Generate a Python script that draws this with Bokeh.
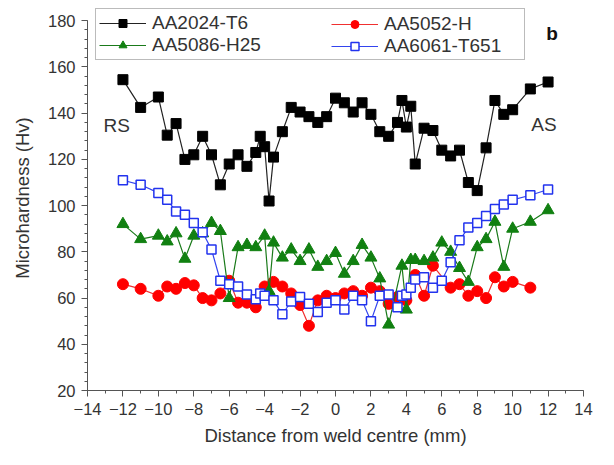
from bokeh.plotting import figure
from bokeh.models import (Range1d, FixedTicker, Legend, LegendItem, Label)
from bokeh.embed import file_html
from bokeh.resources import INLINE

# ---------------- data ----------------
black_x = [-12, -11, -10, -9.5, -9, -8.5, -8, -7.5, -7, -6.5, -6, -5.5, -5, -4.5,
           -4.25, -4, -3.75, -3.5, -3, -2.5, -2, -1.5, -1, -0.5, 0, 0.5, 1, 1.5,
           2, 2.5, 3, 3.5, 3.75, 4, 4.25, 4.5, 5, 5.5, 6, 6.5, 7, 7.5, 8, 8.5,
           9, 9.5, 10, 11, 12]
black_y = [154.5, 142.5, 147, 130.5, 135.5, 120, 122, 130, 122, 109, 118, 122, 117, 123,
           130, 125.5, 102, 121, 132, 142.5, 140.5, 138.5, 136, 138.5, 146.5, 144.5, 140.5, 144.5,
           139.5, 132, 130, 136, 145.5, 134, 143, 118, 133.5, 132.5, 124, 121.5, 124, 110, 106.5, 125,
           145.5, 139.5, 141.5, 150.5, 153.5]

red_x = [-12, -11, -10, -9.5, -9, -8.5, -8, -7.5, -7, -6.5, -6, -5.5, -5, -4.5,
         -4, -3.5, -3, -2.5, -2, -1.5, -1, -0.5, 0, 0.5, 1, 1.5, 2, 2.5, 3, 3.5,
         4, 4.5, 5, 5.5, 6.5, 7, 7.5, 8, 8.5, 9, 9.5, 10, 11]
red_y = [66, 64, 61, 65, 64, 66.5, 65.5, 60, 59, 62, 67.5, 58, 58, 56,
         65, 67, 65, 62, 57, 48, 59, 61, 60, 62, 63, 61, 64.5, 63, 57.5, 60.5,
         59, 70, 61, 74, 64.5, 66, 61, 63, 60, 69, 65, 67, 64.5]

green_x = [-12, -11, -10, -9.5, -9, -8.5, -8, -7.5, -7, -6.5, -6, -5.5, -5, -4.5,
           -4, -3.75, -3.5, -3, -2.5, -2, -1.5, -1, -0.5, 0, 0.5, 1, 1.5, 2, 2.5, 3,
           3.75, 4, 4.25, 4.5, 5, 5.5, 6, 6.5, 7, 7.5, 8, 8.5, 9, 9.5, 10, 11, 12]
green_y = [92, 85.5, 87, 84.5, 88, 77, 87, 88, 92.5, 89, 60, 82, 83, 82,
           87, 63, 84, 77.5, 81, 76, 81, 73.5, 76, 79.5, 70.5, 76, 83, 77.5, 68.5, 48.5,
           74, 55, 76.5, 76.5, 76, 77.5, 84, 80, 73, 67, 82, 85.5, 93, 73.5, 90, 93, 98]

blue_x = [-12, -11, -10, -9.5, -9, -8.5, -8, -7.5, -7, -6.5, -6, -5.5, -5, -4.5,
          -4.25, -4, -3.5, -3, -2.5, -2, -1.5, -1, -0.5, 0, 0.5, 1, 1.5, 2, 2.5, 3, 3.5,
          3.75, 4, 4.25, 4.5, 5, 5.5, 6, 6.5, 7, 7.5, 8, 8.5, 9, 9.5, 10, 11, 12]
blue_y = [111, 109, 105.5, 102.5, 97.5, 96, 92.5, 88.5, 81, 67.5, 66, 65, 61.5, 59.5,
          62, 61, 59, 53, 58.5, 60.5, 57.5, 54, 58, 59, 55, 61, 59, 50, 61, 61.5, 56,
          61, 61.5, 64.5, 68, 69, 64.5, 67.5, 75.5, 85, 90.5, 92.5, 95.5, 98.5, 100.5, 102.5, 104.5, 107]

series_names = ["AA2024-T6", "AA5052-H", "AA5086-H25", "AA6061-T651"]
x_ticks = list(range(-14, 15, 2))
x_minor = list(range(-14, 15, 1))
y_ticks = list(range(20, 181, 20))
y_minor = list(range(20, 181, 4))
y_axis_bounds = (20, 180)

FONT = "Liberation Sans"

# frame extends a little above 180 so that the legend (which overlaps the top) is not clipped
p = figure(width=598, height=449, output_backend="svg", toolbar_location=None,
           x_range=Range1d(-14, 14), y_range=Range1d(20, 186.6),
           min_border_left=87, min_border_right=15, min_border_top=5, min_border_bottom=59)
p.outline_line_color = None
p.grid.visible = False
p.background_fill_color = "white"
p.border_fill_color = "white"

# series
r_bl = p.line(black_x, black_y, line_color="#222222", line_width=1.2)
r_bm = p.scatter(black_x, black_y, marker="square", size=10, fill_color="black", line_color="black")
r_rl = p.line(red_x, red_y, line_color="#f03030", line_width=1.2)
r_rm = p.scatter(red_x, red_y, marker="circle", size=11, fill_color="#ff0000", line_color="#ff0000")
r_gl = p.line(green_x, green_y, line_color="#1a7a1a", line_width=1.2)
r_gm = p.scatter(green_x, green_y, marker="triangle", size=12, fill_color="#118011", line_color="#118011")
r_ul = p.line(blue_x, blue_y, line_color="#3344ee", line_width=1.2)
r_um = p.scatter(blue_x, blue_y, marker="square", size=9, fill_color="white", line_color="#2233ee", line_width=1.5)

# axes
for ax in (p.xaxis[0], p.yaxis[0]):
    ax.axis_line_color = "#555555"
    ax.major_tick_line_color = "#555555"
    ax.minor_tick_line_color = "#555555"
    ax.major_tick_in = 0
    ax.major_tick_out = 6
    ax.minor_tick_in = 0
    ax.minor_tick_out = 3
    ax.major_label_text_font = FONT
    ax.major_label_text_font_size = "16.5px"
    ax.major_label_text_color = "#333333"
    ax.axis_label_text_font = FONT
    ax.axis_label_text_font_size = "18.5px"
    ax.axis_label_text_font_style = "normal"
    ax.axis_label_text_color = "#333333"

p.xaxis[0].ticker = FixedTicker(ticks=x_ticks, minor_ticks=x_minor)
p.yaxis[0].ticker = FixedTicker(ticks=y_ticks, minor_ticks=y_minor)
p.yaxis[0].bounds = y_axis_bounds
p.xaxis[0].axis_label = "Distance from weld centre (mm)"
p.yaxis[0].axis_label = "Microhardness (Hv)"
p.xaxis[0].major_label_standoff = 6
p.xaxis[0].axis_label_standoff = 7
p.yaxis[0].major_label_standoff = 6
p.yaxis[0].axis_label_standoff = 12

# legends (two columns, the first carries the frame)
leg_common = dict(label_text_font=FONT, label_text_font_size="19px", label_text_color="#333333",
                  glyph_width=47, glyph_height=20, label_height=20, label_standoff=6,
                  spacing=0, margin=0, padding=3)
leg1 = Legend(items=[LegendItem(label=series_names[0], renderers=[r_bl, r_bm]),
                     LegendItem(label=series_names[2], renderers=[r_gl, r_gm])],
              location=(8, 330), label_width=369,
              border_line_color="#777777", border_line_width=1.5,
              background_fill_color="white", background_fill_alpha=1.0, **leg_common)
leg2 = Legend(items=[LegendItem(label=series_names[1], renderers=[r_rl, r_rm]),
                     LegendItem(label=series_names[3], renderers=[r_ul, r_um])],
              location=(241, 330),
              border_line_color="white", border_line_alpha=0.0, border_line_width=1.5,
              background_fill_alpha=0.0, **leg_common)
p.add_layout(leg1, "center")
p.add_layout(leg2, "center")

# text labels
p.add_layout(Label(x=-13.1, y=134.5, text="RS", text_font=FONT, text_font_size="19px",
                   text_color="#333333", text_baseline="middle"))
p.add_layout(Label(x=11.05, y=135.3, text="AS", text_font=FONT, text_font_size="19px",
                   text_color="#333333", text_baseline="middle"))
p.add_layout(Label(x=11.9, y=174.3, text="b", text_font=FONT, text_font_size="19px",
                   text_font_style="bold", text_color="#111111", text_baseline="middle"))

open("out.html", "w").write(file_html(p, INLINE))
